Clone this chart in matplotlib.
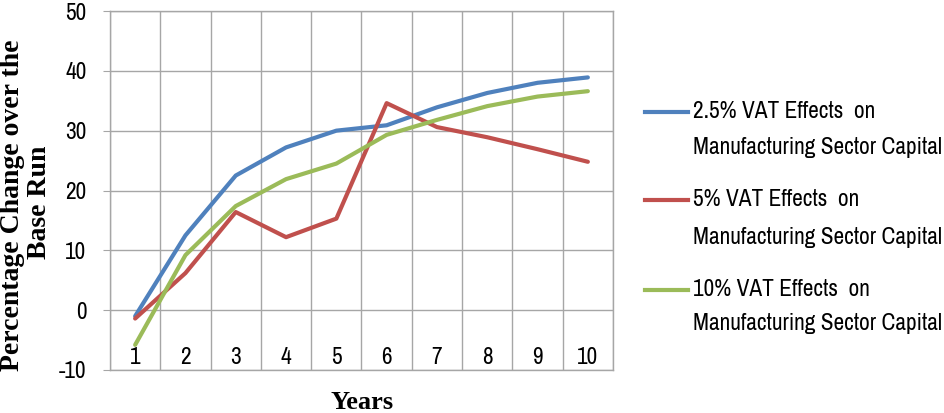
import matplotlib
matplotlib.use("Agg")
import matplotlib.pyplot as plt
from matplotlib.lines import Line2D
from matplotlib import font_manager

years = [1, 2, 3, 4, 5, 6, 7, 8, 9, 10]
year_labels = ["1", "2", "3", "4", "5", "6", "7", "8", "9", "10"]
vat_25 = [-1.0, 12.5, 22.5, 27.2, 30.0, 30.9, 33.9, 36.3, 38.0, 38.9]
vat_5 = [-1.4, 6.2, 16.4, 12.2, 15.3, 34.6, 30.6, 28.9, 26.9, 24.8]
vat_10 = [-5.8, 9.2, 17.4, 21.9, 24.5, 29.3, 31.8, 34.1, 35.7, 36.6]
series_labels = ["2.5% VAT Effects  on\nManufacturing Sector Capital",
                 "5% VAT Effects  on\nManufacturing Sector Capital",
                 "10% VAT Effects  on\nManufacturing Sector Capital"]
y_ticks = [-10, 0, 10, 20, 30, 40, 50]

names = {f.name for f in font_manager.fontManager.ttflist}
sans = "Liberation Sans"
for cand in ["Archivo Narrow", "Asap Condensed", "Barlow Condensed", "Carlito"]:
    if cand in names:
        sans = cand
        break
serif = "Liberation Serif"

colors = ["#4F81BD", "#C0504D", "#9BBB59"]
grid_c = "#A6A6A6"

fig = plt.figure(figsize=(9.45, 4.13), dpi=100)
renderer = fig.canvas.get_renderer()

# pick a font size so that the long legend line is ~250 px wide
probe = fig.text(0, 0, "Manufacturing Sector Capital", fontfamily=sans, fontsize=10)
w10 = probe.get_window_extent(renderer).width
probe.remove()
fs = round(10 * 250 / w10, 1)

ax = fig.add_axes([110/945, 1-370/413, (613-110)/945, (370-11)/413])

for vals, c in zip([vat_25, vat_5, vat_10], colors):
    ax.plot(years, vals, color=c, lw=3.0, solid_capstyle="round", zorder=3)

ax.set_xlim(0.5, 10.5)
ax.set_ylim(-10, 50)
ax.set_yticks(y_ticks)
ax.set_yticklabels([str(v) for v in y_ticks], fontfamily=sans, fontsize=fs)
ax.set_xticks(years)
ax.set_xticklabels(year_labels, fontfamily=sans, fontsize=fs, va="center")
ax.set_xticks([x + 0.5 for x in range(0, 11)], minor=True)
ax.tick_params(axis="x", which="both", length=0, pad=-9)
ax.tick_params(axis="y", length=5, color=grid_c, pad=12)
ax.grid(False)
for y in y_ticks:
    ax.axhline(y, color=grid_c, lw=1, zorder=1)
ax.grid(axis="x", which="minor", color=grid_c, lw=1, zorder=1)
for s in ax.spines.values():
    s.set_color(grid_c)
    s.set_linewidth(1)

fig.text(13/945, 1-205/413, "Percentage Change over the", rotation=90,
         fontfamily=serif, fontweight="bold", fontsize=20, ha="center", va="center")
fig.text(40/945, 1-202/413, "Base Run", rotation=90,
         fontfamily=serif, fontweight="bold", fontsize=20, ha="center", va="center")
fig.text(362/945, 1-409/413, "Years", fontfamily=serif, fontweight="bold",
         fontsize=19, ha="center", va="baseline")

rows = [(112, 148), (200, 237), (290, 323)]
for lab, c, (y1, y2) in zip(series_labels, colors, rows):
    l1, l2 = lab.split("\n")
    fig.add_artist(Line2D([645/945, 688/945], [1-y1/413, 1-y1/413], color=c, lw=3.0,
                          transform=fig.transFigure))
    fig.text(693/945, 1-y1/413, l1, fontfamily=sans, fontsize=fs, va="center", ha="left")
    fig.text(693/945, 1-y2/413, l2, fontfamily=sans, fontsize=fs, va="center", ha="left")

fig.savefig("out.png", dpi=100)
